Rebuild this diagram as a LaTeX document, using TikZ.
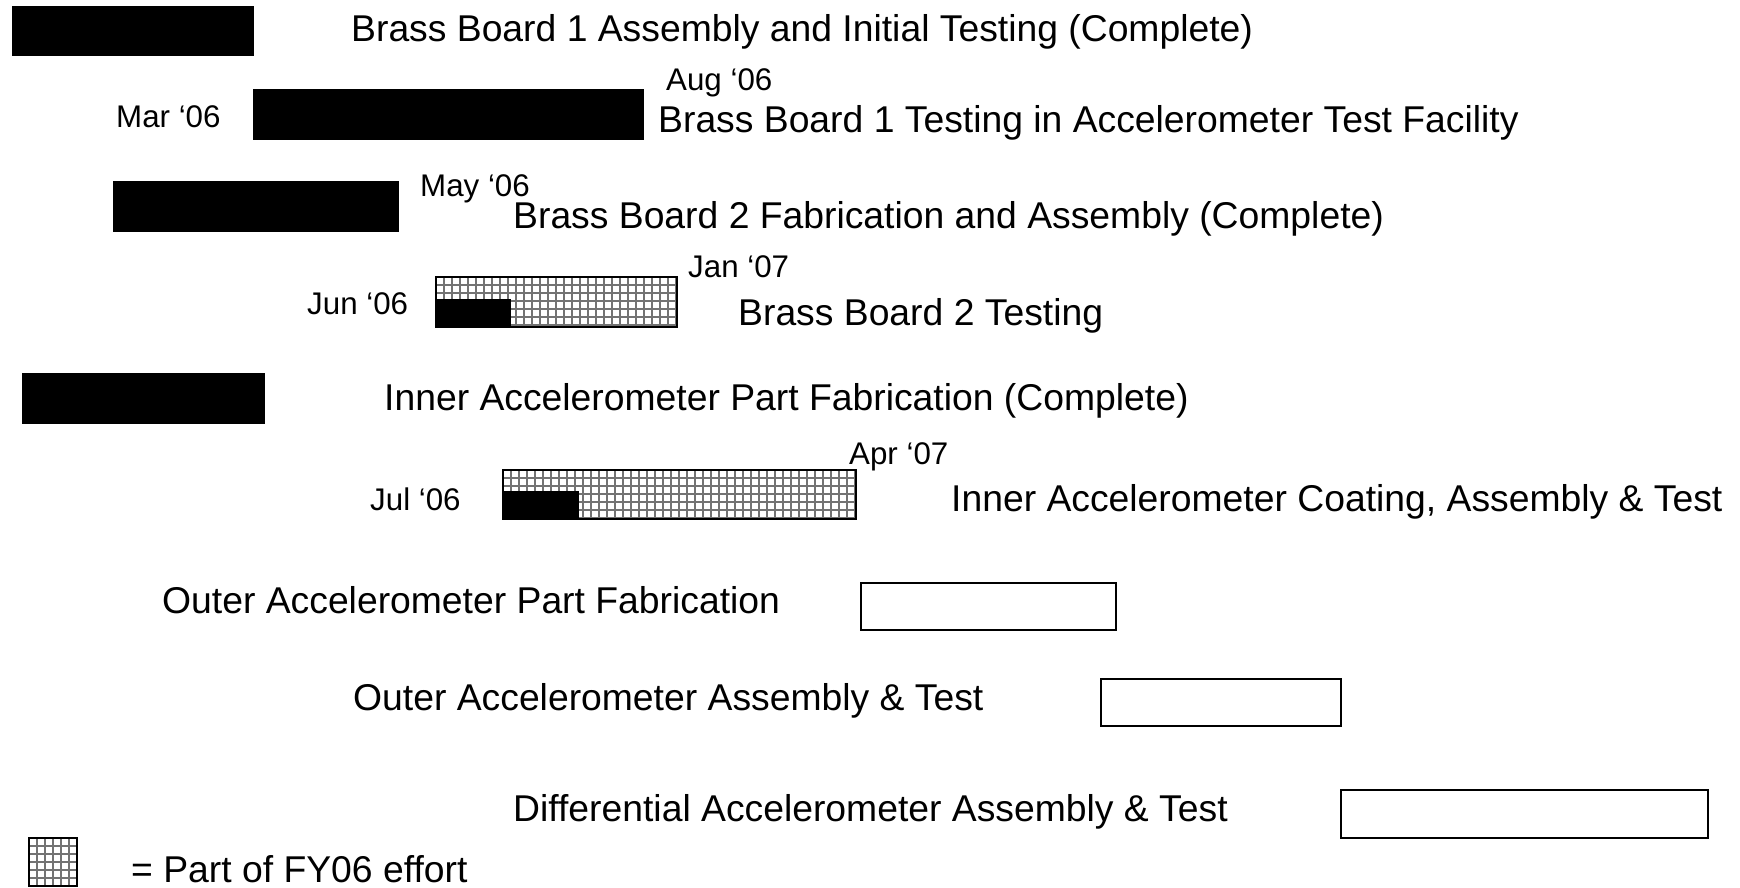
\documentclass[tikz,border=0pt]{standalone}
\usepackage{fontspec}
\setmainfont{Liberation Sans}
\begin{document}
\begin{tikzpicture}[x=1pt,y=-1pt,
  big/.style={anchor=base west,inner sep=0pt,font=\fontsize{37.3}{40}\selectfont},
  small/.style={anchor=base west,inner sep=0pt,font=\fontsize{31.3}{34}\selectfont},
  solidbar/.style={anchor=north west,fill=black,draw=black,inner sep=0pt,outer sep=0pt},
  emptybar/.style={anchor=north west,fill=white,draw=black,line width=1.2pt,inner sep=0pt,outer sep=0pt},
  hatchbar/.style={anchor=north west,draw=black,line width=1.5pt,inner sep=0pt,outer sep=0pt,fill=white,
    path picture={
      \foreach \i in {0,8,...,400}{
        \draw[black!55,line width=1.8pt] ([xshift=\i pt]path picture bounding box.south west) -- ([xshift=\i pt]path picture bounding box.north west);
        \draw[black!55,line width=1.8pt] ([yshift=-\i pt]path picture bounding box.north west) -- ([yshift=-\i pt]path picture bounding box.north east);
      }}}
]
\useasboundingbox (0,0) rectangle (1740,888);
% Row 1
\node[solidbar,minimum width=241pt,minimum height=49pt] (bar1) at (12,6) {};
\node[big] (t1) at (351,42) {Brass Board 1 Assembly and Initial Testing (Complete)};
% Row 2
\node[small] (aug) at (666,91) {Aug ‘06};
\node[small] (mar) at (116,128) {Mar ‘06};
\node[solidbar,minimum width=390pt,minimum height=50pt] (bar2) at (253,89) {};
\node[big] (t2) at (658,133) {Brass Board 1 Testing in Accelerometer Test Facility};
% Row 3
\node[solidbar,minimum width=285pt,minimum height=50pt] (bar3) at (113,181) {};
\node[small] (may) at (420,196) {May ‘06};
\node[big] (t3) at (513,228) {Brass Board 2 Fabrication and Assembly (Complete)};
% Row 4
\node[small] (jan) at (688,277) {Jan ‘07};
\node[small] (jun) at (307,314) {Jun ‘06};
\node[hatchbar,minimum width=241pt,minimum height=50pt] (bar4) at (436,277) {};
\node[solidbar,anchor=south west,minimum width=74pt,minimum height=28pt] (p4) at (bar4.south west) {};
\node[big] (t4) at (738,325) {Brass Board 2 Testing};
% Row 5
\node[solidbar,minimum width=242pt,minimum height=50pt] (bar5) at (22,373) {};
\node[big] (t5) at (384,410) {Inner Accelerometer Part Fabrication (Complete)};
% Row 6
\node[small] (apr) at (849,464) {Apr ‘07};
\node[small] (jul) at (370,510) {Jul ‘06};
\node[hatchbar,minimum width=353pt,minimum height=49pt] (bar6) at (503,470) {};
\node[solidbar,anchor=south west,minimum width=75pt,minimum height=28pt] (p6) at (bar6.south west) {};
\node[big] (t6) at (951,511) {Inner Accelerometer Coating, Assembly \& Test};
% Row 7
\node[big] (t7) at (162,613) {Outer Accelerometer Part Fabrication};
\node[emptybar,minimum width=255pt,minimum height=47pt] (bar7) at (861,583) {};
% Row 8
\node[big] (t8) at (353,710) {Outer Accelerometer Assembly \& Test};
\node[emptybar,minimum width=240pt,minimum height=47pt] (bar8) at (1101,679) {};
% Row 9
\node[big] (t9) at (513,821) {Differential Accelerometer Assembly \& Test};
\node[emptybar,minimum width=367pt,minimum height=48pt] (bar9) at (1341,790) {};
% Legend
\node[hatchbar,minimum width=48pt,minimum height=48pt] (leg) at (29,838) {};
\node[big] (legt) at (131,882) {= Part of FY06 effort};
\end{tikzpicture}
\end{document}
